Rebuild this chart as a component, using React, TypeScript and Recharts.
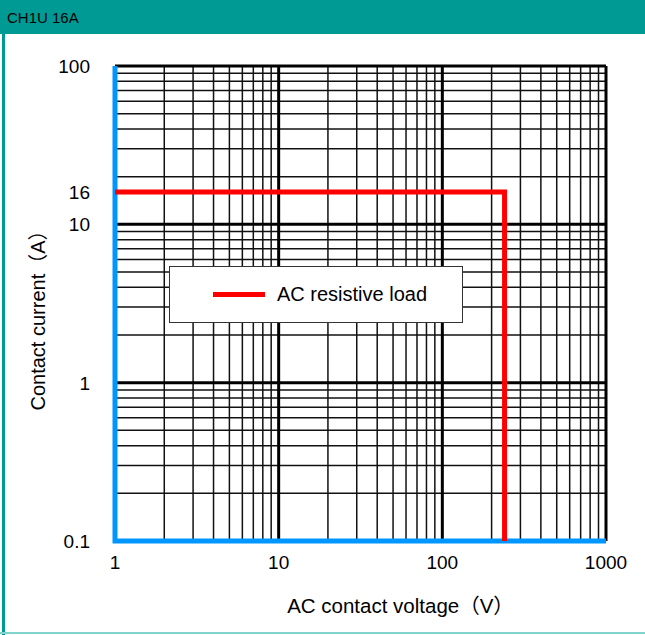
import React from "react";
import { LineChart, Line, XAxis, YAxis, ReferenceLine, Legend } from "recharts";

// rated boundary (AC resistive load)
const boundaryVoltage = [1, 240, 240];
const boundaryCurrent = [16, 16, 0.1];

// left / bottom edge drawn in blue
const frameVoltage = [1, 1, 1000];
const frameCurrent = [100, 0.1, 0.1];

const xTicks = [1, 10, 100, 1000];
const yTicks = [0.1, 1, 10, 16, 100];

const xMajor = [1, 10, 100, 1000];
const xMinor = [2, 3, 4, 5, 6, 7, 8, 9, 20, 30, 40, 50, 60, 70, 80, 90, 200, 300, 400, 500, 600, 700, 800, 900];
const yMajor = [0.1, 1, 10, 100];
const yMinor = [0.2, 0.3, 0.4, 0.5, 0.6, 0.7, 0.8, 0.9, 2, 3, 4, 5, 6, 7, 8, 9, 20, 30, 40, 50, 60, 70, 80, 90];

const boundaryData = boundaryVoltage.map((v, i) => ({ v, a: boundaryCurrent[i] }));
const frameData = frameVoltage.map((v, i) => ({ v, a: frameCurrent[i] }));

const FONT = "'Liberation Sans', 'Noto Sans CJK JP', sans-serif";
const W = 645;
const H = 635;
const M = { top: 66, right: 39, bottom: 34, left: 55 };

const XTick = ({ x, y, payload }: any) => (
  <text x={x} y={y} dy="0.75em" textAnchor="middle" fill="#000" fontSize={19} fontFamily={FONT}>
    {payload.value}
  </text>
);

const YTick = ({ x, y, payload }: any) => (
  <text x={x} y={y} dy="0.36em" textAnchor="end" fill="#000" fontSize={19} fontFamily={FONT}>
    {payload.value}
  </text>
);

const LegendBox = () => (
  <div
    style={{
      width: 294,
      height: 57,
      boxSizing: "border-box",
      border: "1.5px solid #333",
      background: "#fff",
      display: "flex",
      alignItems: "center",
      fontFamily: FONT,
      fontSize: 20,
      color: "#000",
    }}
  >
    <span style={{ display: "inline-block", width: 52, height: 5, background: "#ff0000", marginLeft: 43, marginRight: 12 }} />
    <span>AC resistive load</span>
  </div>
);

export default function App() {
  return (
    <div style={{ position: "absolute", left: 0, top: 0, width: W, height: H, background: "#fff", overflow: "hidden" }}>
      <div
        style={{
          position: "absolute",
          left: 0,
          top: 0,
          width: W,
          height: 34,
          background: "#009a94",
          fontFamily: FONT,
          fontSize: 15,
          lineHeight: "36px",
          paddingLeft: 7,
          boxSizing: "border-box",
          color: "#000",
        }}
      >
        CH1U 16A
      </div>
      <div style={{ position: "absolute", left: 2, top: 34, width: 3, height: 601, background: "#009a94" }} />
      <div style={{ position: "absolute", left: 0, top: 632, width: W, height: 2, background: "#80d4cb" }} />

      {/* grid, axes and legend */}
      <div style={{ position: "absolute", left: 0, top: 0 }}>
        <LineChart width={W} height={H} margin={M}>
          <XAxis
            dataKey="v"
            type="number"
            scale="log"
            domain={[1, 1000]}
            allowDataOverflow
            ticks={xTicks}
            height={60}
            axisLine={false}
            tickLine={false}
            tickSize={0}
            tickMargin={14}
            tick={<XTick />}
            label={{
              content: ({ viewBox }: any) => (
                <text
                  x={viewBox.x + viewBox.width / 2 + 40}
                  y={viewBox.y + 72}
                  textAnchor="middle"
                  fill="#000"
                  fontSize={20.5}
                  fontFamily={FONT}
                >
                  AC contact voltage（V）
                </text>
              ),
            }}
          />
          <YAxis
            dataKey="a"
            type="number"
            scale="log"
            domain={[0.1, 100]}
            allowDataOverflow
            ticks={yTicks}
            width={60}
            axisLine={false}
            tickLine={false}
            tickSize={0}
            tickMargin={25}
            tick={<YTick />}
            label={{
              content: ({ viewBox }: any) => {
                const cx = 38;
                const cy = viewBox.y + viewBox.height / 2 + 12;
                return (
                  <text
                    x={cx}
                    y={cy}
                    transform={`rotate(-90 ${cx} ${cy})`}
                    textAnchor="middle"
                    dominantBaseline="central"
                    fill="#000"
                    fontSize={20}
                    fontFamily={FONT}
                  >
                    Contact current（A）
                  </text>
                );
              },
            }}
          />
          {xMinor.map((v) => (
            <ReferenceLine key={"xm" + v} x={v} stroke="#111" strokeWidth={1.5} />
          ))}
          {yMinor.map((v) => (
            <ReferenceLine key={"ym" + v} y={v} stroke="#111" strokeWidth={1.5} />
          ))}
          {xMajor.map((v) => (
            <ReferenceLine key={"xM" + v} x={v} stroke="#000" strokeWidth={3} />
          ))}
          {yMajor.map((v) => (
            <ReferenceLine key={"yM" + v} y={v} stroke="#000" strokeWidth={3} />
          ))}
          <Legend
            layout="horizontal"
            verticalAlign="middle"
            align="center"
            wrapperStyle={{ left: 169, top: 266, width: 294, height: 57 }}
            content={() => <LegendBox />}
          />
        </LineChart>
      </div>

      {/* series on top of the grid */}
      <div style={{ position: "absolute", left: 0, top: 0 }}>
        <LineChart
          width={W}
          height={H}
          margin={{ top: M.top, right: M.right, bottom: M.bottom + 60, left: M.left + 60 }}
          style={{ background: "transparent" }}
        >
          <XAxis dataKey="v" type="number" scale="log" domain={[1, 1000]} hide />
          <YAxis dataKey="a" type="number" scale="log" domain={[0.1, 100]} hide />
          <Line
            data={frameData}
            dataKey="a"
            type="linear"
            stroke="#0096ff"
            strokeWidth={5}
            dot={false}
            legendType="none"
            isAnimationActive={false}
          />
          <Line
            data={boundaryData}
            dataKey="a"
            name="AC resistive load"
            type="linear"
            stroke="#ff0000"
            strokeWidth={5}
            dot={false}
            isAnimationActive={false}
          />
        </LineChart>
      </div>
    </div>
  );
}
